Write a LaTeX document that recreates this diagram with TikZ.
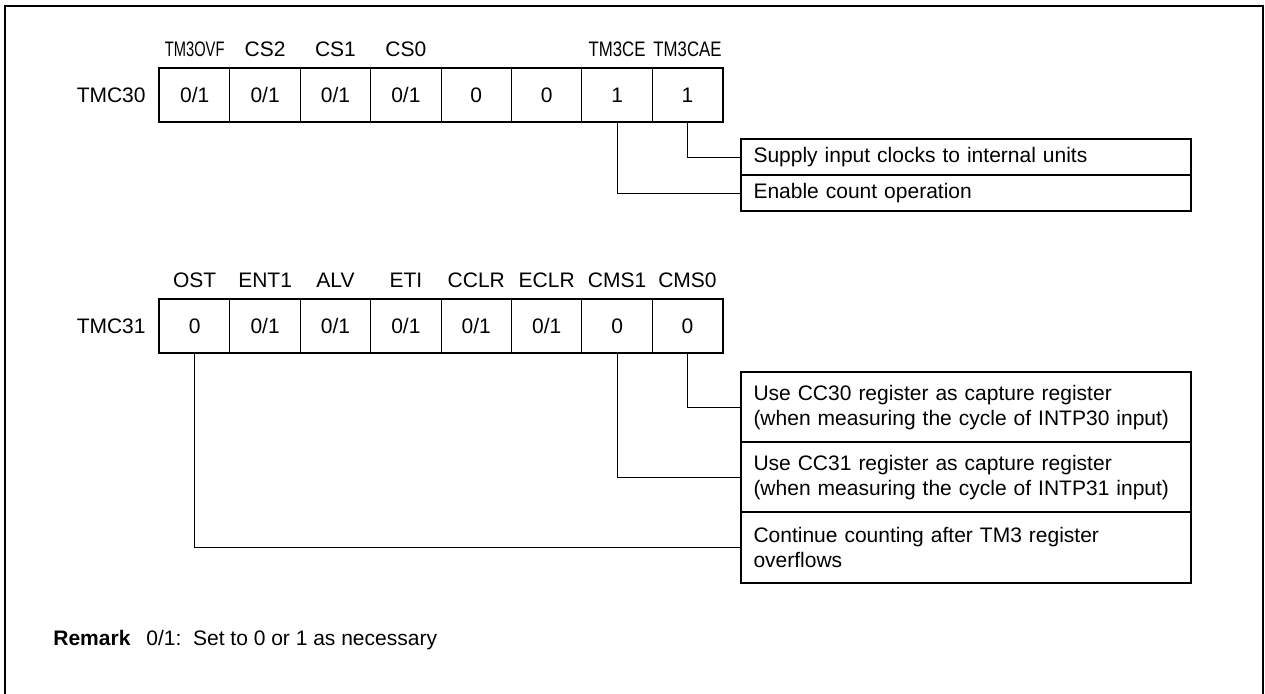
\documentclass[tikz,border=0pt]{standalone}
\usepackage{fontspec}
\setmainfont{Liberation Sans}
\usepackage{graphicx}
\usetikzlibrary{positioning}

\newcommand{\slimtext}[2]{\scalebox{#1}[1]{#2}}

\begin{document}
\begin{tikzpicture}[x=0.5pt, y=-0.5pt,
    every node/.style={font=\fontsize{10.5}{12.5}\selectfont},
    cell/.style={draw, line width=0.5pt, minimum width=35.2pt, minimum height=26.5pt, inner sep=0pt, anchor=north west},
    bitname/.style={inner sep=0pt},
    regname/.style={inner sep=0pt, anchor=east},
    descrow/.style={draw, line width=0.5pt, text width=212.5pt, inner xsep=6pt, inner ysep=0pt, align=left, anchor=north west},
    frame/.style={line width=1pt},
    link/.style={line width=0.5pt}]
    \useasboundingbox (0,0) rectangle (1265,693);

    % Outer frame
    \draw[frame] (5,700) -- (5,6) -- (1263,6) -- (1263,700);

    % Register TMC30
    \foreach \v [count=\i] in {0/1,0/1,0/1,0/1,0,0,1,1} {
        \node[cell] (r30c\i) at ({159+(\i-1)*70.4}, 68) {\v};
    }
    \draw[frame] (r30c1.north west) rectangle (r30c8.south east);
    \node[regname] (n30) at ([xshift=-6.5pt]r30c1.west) {TMC30};
    \foreach \i/\n in {1/{\slimtext{0.7}{TM3OVF}}, 2/CS2, 3/CS1, 4/CS0, 7/{\slimtext{0.8}{TM3CE}}, 8/{\slimtext{0.8}{TM3CAE}}} {
        \node[bitname] (b30n\i) at ([yshift=9.5pt]r30c\i.north) {\n};
    }

    % Descriptions for TMC30
    \node[descrow, minimum height=17.5pt] (d30a) at (741,139) {Supply input clocks to internal units};
    \node[descrow, minimum height=17.5pt, below=0pt of d30a] (d30b) {Enable count operation};
    \draw[frame] (d30a.north west) rectangle (d30b.south east);
    \draw[link] (r30c8.south) |- (d30a.west);
    \draw[link] (r30c7.south) |- (d30b.west);

    % Register TMC31
    \foreach \v [count=\i] in {0,0/1,0/1,0/1,0/1,0/1,0,0} {
        \node[cell] (r31c\i) at ({159+(\i-1)*70.4}, 299) {\v};
    }
    \draw[frame] (r31c1.north west) rectangle (r31c8.south east);
    \node[regname] (n31) at ([xshift=-6.5pt]r31c1.west) {TMC31};
    \foreach \n [count=\i] in {OST,ENT1,ALV,ETI,CCLR,ECLR,CMS1,CMS0} {
        \node[bitname] (b31n\i) at ([yshift=9.5pt]r31c\i.north) {\n};
    }

    % Descriptions for TMC31
    \node[descrow, minimum height=34.6pt] (d31a) at (741,372)
        {Use CC30 register as capture register\\(when measuring the cycle of INTP30 input)};
    \node[descrow, minimum height=34.6pt, below=0pt of d31a] (d31b)
        {Use CC31 register as capture register\\(when measuring the cycle of INTP31 input)};
    \node[descrow, minimum height=34.6pt, below=0pt of d31b] (d31c)
        {Continue counting after TM3 register\\overflows};
    \draw[frame] (d31a.north west) rectangle (d31c.south east);
    \draw[link] (r31c8.south) |- (d31a.west);
    \draw[link] (r31c7.south) |- (d31b.west);
    \draw[link] (r31c1.south) |- (d31c.west);

    % Remark
    \node[inner sep=0pt, anchor=base west] (remark) at (53,645) {\textbf{Remark}};
    \node[inner sep=0pt, anchor=base west] (note) at (146,645) {0/1:\ \ Set to 0 or 1 as necessary};
\end{tikzpicture}
\end{document}
